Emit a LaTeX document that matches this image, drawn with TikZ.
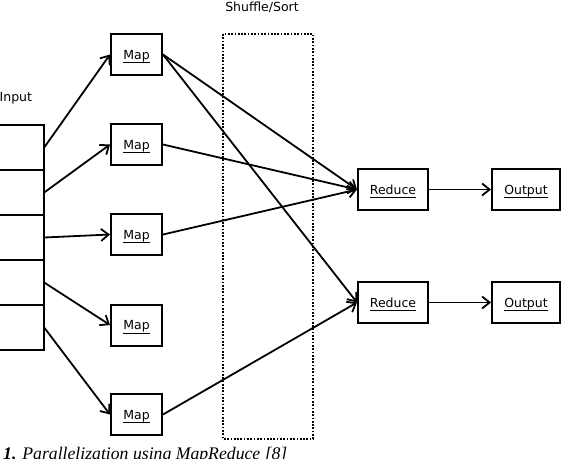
\documentclass[tikz,border=0pt]{standalone}
\usepackage{fontspec}
\usetikzlibrary{arrows.meta}
\newfontfamily\dvfont{DejaVu Sans}
\newfontfamily\capfont{Liberation Serif}
\newcommand\ulab[1]{\setbox0=\hbox{#1}\rlap{\rule[-3.9pt]{\wd0}{0.8pt}}\box0}
\begin{document}
\begin{tikzpicture}[x=1pt,y=-1pt,
  lbl/.style={font=\dvfont\fontsize{12.5}{14}\selectfont},
  box/.style={draw,line width=2pt,lbl,text height=9pt,text depth=0pt,inner sep=0pt},
  mapbox/.style={box,minimum width=51pt,minimum height=41pt},
  redbox/.style={box,minimum width=70pt,minimum height=41pt},
  outbox/.style={box,minimum width=68pt,minimum height=41pt},
  cell/.style={minimum width=56pt,minimum height=45pt,inner sep=0pt},
  grid/.style={line width=2pt},
  arr/.style={line width=1.8pt,-{Straight Barb[length=7.5pt,width=12pt,line width=1.8pt]}},
  shuf/.style={line width=1.7pt,dash pattern=on 1.7pt off 1.6pt}]
\clip (0,0) rectangle (565,458);
\fill[white] (0,0) rectangle (565,458);
% input stack
\node[cell] (in1) at (16,147.5) {};
\node[cell] (in2) at (16,192.5) {};
\node[cell] (in3) at (16,237.5) {};
\node[cell] (in4) at (16,282.5) {};
\node[cell] (in5) at (16,327.5) {};
\draw[grid] (in1.north west) rectangle (in5.south east);
\foreach \a/\b in {in1/in2,in2/in3,in3/in4,in4/in5}
  \draw[grid] (\a.south west) -- (\a.south east);
\node[lbl,anchor=west,inner sep=0pt] (inlab) at (-0.5,98) {Input};
% shuffle box
\draw[shuf] (223,34) rectangle (313,439);
\node[lbl,inner sep=0pt] (shlab) at (262,7) {Shuffle/Sort};
% maps
\node[mapbox] (m1) at (136.5,54.5) {\ulab{Map}};
\node[mapbox] (m2) at (136.5,144.5) {\ulab{Map}};
\node[mapbox] (m3) at (136.5,234.5) {\ulab{Map}};
\node[mapbox] (m4) at (136.5,325) {\ulab{Map}};
\node[mapbox] (m5) at (136.5,414.5) {\ulab{Map}};
% reduces and outputs
\node[redbox] (r1) at (393,189.5) {\ulab{Reduce}};
\node[redbox] (r2) at (393,302.5) {\ulab{Reduce}};
\node[outbox] (o1) at (526,189.5) {\ulab{Output}};
\node[outbox] (o2) at (526,302.5) {\ulab{Output}};
% connectors
\draw[arr] (in1.east) -- (m1.west);
\draw[arr] (in2.east) -- (m2.west);
\draw[arr] (in3.east) -- (m3.west);
\draw[arr] (in4.east) -- (m4.west);
\draw[arr] (in5.east) -- (m5.west);
\draw[arr] (m1.east) -- (r1.west);
\draw[arr] (m1.east) -- (r2.west);
\draw[arr] (m2.east) -- (r1.west);
\draw[arr] (m3.east) -- (r1.west);
\draw[arr] (m5.east) -- (r2.west);
\draw[arr] (r1.east) -- (o1.west);
\draw[arr] (r2.east) -- (o2.west);
% caption
\node[anchor=base west,inner sep=0pt,font=\capfont\fontsize{17.7}{20}\selectfont] (cap) at (3,459) {\textbf{\textit{1.}} \textit{Parallelization using MapReduce [8]}};
\end{tikzpicture}
\end{document}
